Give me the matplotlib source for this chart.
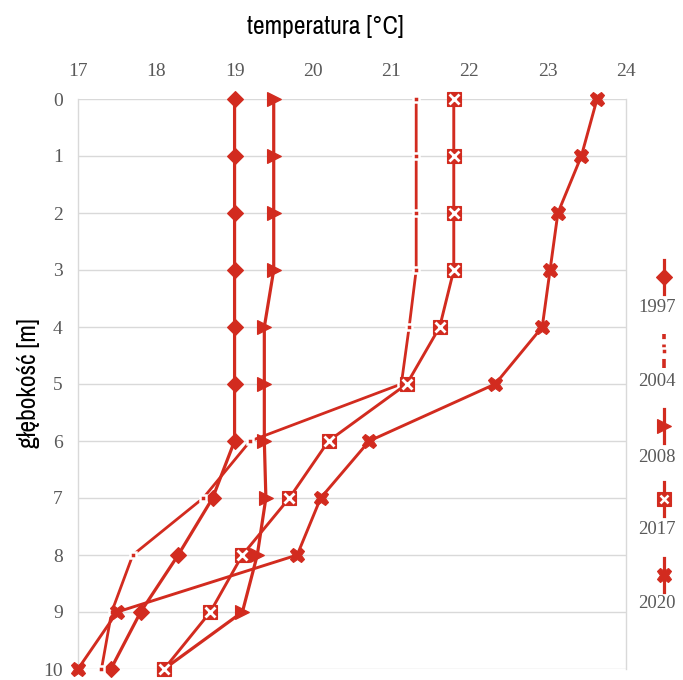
import matplotlib
matplotlib.use("Agg")
import matplotlib.pyplot as plt
from matplotlib.lines import Line2D
from matplotlib import font_manager as fm

depth = [0, 1, 2, 3, 4, 5, 6, 7, 8, 9, 10]
years = ["1997", "2004", "2008", "2017", "2020"]
t1997 = [19.0, 19.0, 19.0, 19.0, 19.0, 19.0, 19.0, 18.72, 18.28, 17.8, 17.42]
t2004 = [21.32, 21.32, 21.32, 21.32, 21.23, 21.13, 19.2, 18.6, 17.7, 17.43, 17.3]
t2008 = [19.5, 19.5, 19.5, 19.5, 19.38, 19.38, 19.38, 19.4, 19.29, 19.1, 18.1]
t2017 = [21.8, 21.8, 21.8, 21.8, 21.62, 21.2, 20.2, 19.7, 19.1, 18.69, 18.1]
t2020 = [23.63, 23.43, 23.13, 23.03, 22.93, 22.33, 20.72, 20.1, 19.8, 17.5, 17.0]
xticks = [17, 18, 19, 20, 21, 22, 23, 24]
yticks = list(range(0, 11))

RED = "#d22b1f"
GREY = "#595959"
GRID = "#d9d9d9"
SERIF = ["Liberation Serif", "DejaVu Serif"]


def pick_narrow():
    cands = []
    for f in fm.fontManager.ttflist:
        fn = f.fname
        base = fn.rsplit("/", 1)[-1]
        if ("Narrow" in base or "Condensed" in base) and "Bold" not in base \
                and "Oblique" not in base and "Italic" not in base and f.weight in (400, "normal", "regular"):
            cands.append(fn)
    cands.sort(key=lambda s: (0 if "Narrow" in s else 1))
    if cands:
        return dict(fontproperties=fm.FontProperties(fname=cands[0]))
    return dict(family="DejaVu Sans")


narrow_prop = pick_narrow()

fig = plt.figure(figsize=(6.83, 6.80), dpi=100)
ax = fig.add_axes([78 / 683, 11 / 680, 548 / 683, 570 / 680])

styles = {
    "1997": dict(marker="D", ms=8.5, lw=2.3),
    "2004": dict(marker="s", ms=4.5, lw=2.0, mec="white", mew=1.8),
    "2008": dict(marker=">", ms=10, lw=2.3),
    "2017": dict(marker="s", ms=9.5, lw=2.1),
    "2020": dict(marker="X", ms=10.5, lw=2.1),
}
series = {"1997": t1997, "2004": t2004, "2008": t2008, "2017": t2017, "2020": t2020}

for y in years:
    st = dict(styles[y])
    mec = st.pop("mec", RED)
    mew = st.pop("mew", 0.8)
    ax.plot(series[y], depth, color=RED, mfc=RED, mec=mec, mew=mew,
            clip_on=False, zorder=3, **st)
    if y == "2017":
        ax.plot(series[y], depth, ls="none", marker="x", ms=6.5, mew=2.0,
                color="white", clip_on=False, zorder=4)

ax.set_xlim(17, 24)
ax.set_ylim(10, 0)
ax.set_xticks(xticks)
ax.set_yticks(yticks)
ax.xaxis.tick_top()
ax.tick_params(axis="x", length=0, pad=14, labelsize=14, labelcolor=GREY)
ax.tick_params(axis="y", length=0, pad=11, labelsize=14, labelcolor=GREY)
for lab in ax.get_xticklabels() + ax.get_yticklabels():
    lab.set_family(SERIF)
ax.grid(axis="y", color=GRID, lw=1.0, zorder=0)
ax.set_axisbelow(True)
for s in ["left", "right"]:
    ax.spines[s].set_color(GRID)
    ax.spines[s].set_linewidth(1.0)
for s in ["top", "bottom"]:
    ax.spines[s].set_visible(False)

t1 = fig.text(325 / 683, 1 - 26 / 680, "temperatura [°C]", ha="center", va="center",
              color="black", **narrow_prop)
t2 = fig.text(29 / 683, 1 - 383 / 680, "głębokość [m]", ha="center", va="center",
              rotation=90, color="black", **narrow_prop)
t1.set_fontsize(18.5)
t2.set_fontsize(18.5)

# legend (vertical entries on the right)
mark_y = [277, 351, 426, 499, 575]
lab_y = [308, 382, 457, 530, 604]
lx = 664 / 683
for i, y in enumerate(years):
    ym = 1 - mark_y[i] / 680
    half = 17 / 680
    st = dict(styles[y])
    mec = st.pop("mec", RED)
    mew = st.pop("mew", 0.8)
    ls = (0, (2.5, 1.5)) if y == "2004" else "-"
    ln = Line2D([lx, lx], [ym - half, ym + half], transform=fig.transFigure,
                color=RED, lw=2.6 if y == "2004" else 2.3, ls=ls)
    fig.add_artist(ln)
    mk = Line2D([lx], [ym], transform=fig.transFigure, ls="none",
                marker=st["marker"], ms=st["ms"], mfc=RED, mec=mec, mew=mew)
    fig.add_artist(mk)
    if y == "2017":
        fig.add_artist(Line2D([lx], [ym], transform=fig.transFigure, ls="none",
                              marker="x", ms=6, mew=1.8, color="white"))
    fig.text(657 / 683, 1 - lab_y[i] / 680, y, ha="center", va="center",
             fontsize=13.5, family=SERIF, color=GREY)

fig.savefig("out.png", dpi=100)
